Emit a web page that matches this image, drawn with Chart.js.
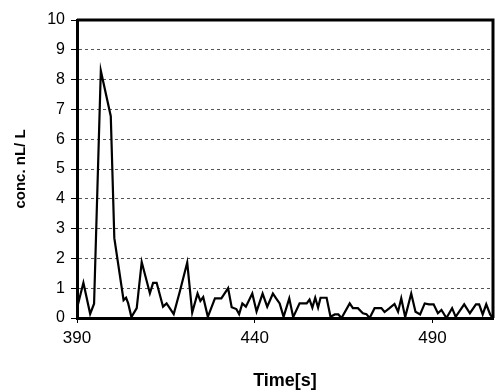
<!DOCTYPE html>
<html>
<head>
  <meta charset="UTF-8" />
  <title>conc. nL/ L</title>
  <script src="https://cdn.jsdelivr.net/npm/chart.js"></script>
  <style>
    html, body { margin: 0; padding: 0; background: #fff; }
    #wrap { width: 495px; height: 392px; }
  </style>
</head>
<body>
  <div id="wrap"><canvas id="chart" width="495" height="392"></canvas></div>
  <script>
    // data
    const times = [390.0, 391.8, 393.7, 394.8, 396.7, 399.5, 400.5, 403.1, 403.8, 404.4,
      405.3, 406.8, 408.2, 410.5, 411.4, 412.4, 414.2, 415.2, 417.2, 418.9,
      421.0, 422.4, 423.9, 424.7, 425.5, 426.8, 428.8, 430.6, 432.5, 433.5,
      434.8, 435.6, 436.5, 437.5, 439.3, 440.5, 442.2, 443.5, 445.1, 446.0,
      447.0, 448.1, 449.7, 450.8, 452.6, 454.6, 455.4, 456.2, 457.0, 457.8,
      458.5, 460.2, 461.3, 462.5, 463.5, 464.4, 466.7, 467.6, 469.0, 470.4,
      471.4, 472.3, 473.7, 475.6, 476.5, 477.9, 479.3, 480.3, 481.2, 482.3,
      484.0, 485.2, 486.5, 487.8, 489.0, 490.3, 491.5, 492.5, 493.9, 495.5,
      496.5, 498.9, 500.5, 502.2, 503.1, 504.1, 505.1, 506.2, 506.9];
    const conc = [0.33, 1.18, 0.14, 0.48, 8.3, 6.77, 2.68, 0.6, 0.68, 0.49,
      0.03, 0.33, 1.88, 0.83, 1.18, 1.18, 0.38, 0.49, 0.13, 0.88,
      1.86, 0.18, 0.82, 0.57, 0.7, 0.04, 0.66, 0.66, 1.0, 0.36,
      0.3, 0.13, 0.49, 0.38, 0.82, 0.22, 0.82, 0.38, 0.82, 0.66,
      0.49, 0.04, 0.66, 0.03, 0.49, 0.49, 0.62, 0.35, 0.68, 0.35,
      0.68, 0.68, 0.04, 0.12, 0.12, 0.0, 0.49, 0.33, 0.33, 0.16,
      0.13, 0.0, 0.33, 0.33, 0.2, 0.33, 0.47, 0.21, 0.66, 0.03,
      0.82, 0.21, 0.12, 0.49, 0.46, 0.46, 0.16, 0.27, 0.0, 0.33,
      0.04, 0.46, 0.16, 0.46, 0.46, 0.12, 0.46, 0.12, 0.0];
    const xTicks = [390, 440, 490];
    const xMin = 390, xMax = 507;
    const yMin = 0, yMax = 10;

    Chart.defaults.font.family = "'Liberation Sans', Arial, sans-serif";
    Chart.defaults.color = '#000';

    // top and right edges of the plot frame
    const framePlugin = {
      id: 'frame',
      afterDraw(chart) {
        const a = chart.chartArea;
        const ctx = chart.ctx;
        ctx.save();
        ctx.strokeStyle = '#000';
        ctx.lineWidth = 3;
        ctx.setLineDash([]);
        ctx.beginPath();
        ctx.moveTo(a.left, a.top);
        ctx.lineTo(a.right, a.top);
        ctx.lineTo(a.right, a.bottom);
        ctx.stroke();
        ctx.restore();
      }
    };

    const ctx = document.getElementById('chart').getContext('2d');
    new Chart(ctx, {
      type: 'line',
      data: {
        datasets: [{
          data: times.map((t, i) => ({ x: t, y: conc[i] })),
          borderColor: '#000',
          borderWidth: 2.2,
          pointRadius: 0,
          tension: 0,
          fill: false
        }]
      },
      options: {
        responsive: false,
        animation: false,
        layout: { padding: { left: 0, top: 20, right: 2, bottom: 0 } },
        plugins: { legend: { display: false }, tooltip: { enabled: false } },
        scales: {
          x: {
            type: 'linear',
            min: xMin,
            max: xMax,
            afterBuildTicks: axis => { axis.ticks = xTicks.map(v => ({ value: v })); },
            afterFit: axis => { axis.height = 74; },
            grid: { drawOnChartArea: false, drawTicks: true, tickLength: 5, tickColor: '#000', tickWidth: 1 },
            border: { color: '#000', width: 3 },
            ticks: { font: { size: 17 }, padding: 5, maxRotation: 0 },
            title: { display: true, text: 'Time[s]', font: { size: 18, weight: 'bold' }, padding: { top: 0, bottom: 0 } }
          },
          y: {
            min: yMin,
            max: yMax,
            afterFit: axis => { axis.width = 77; },
            grid: { color: '#555', lineWidth: 1, tickLength: 6, tickColor: '#000', tickBorderDash: [] },
            border: { color: '#000', width: 3, dash: [3, 3] },
            ticks: { stepSize: 1, font: { size: 16 }, padding: 6 },
            title: { display: true, text: 'conc. nL/ L', font: { size: 15, weight: 'bold' }, padding: { top: 12, bottom: 0 } }
          }
        }
      },
      plugins: [framePlugin]
    });
  </script>
</body>
</html>
